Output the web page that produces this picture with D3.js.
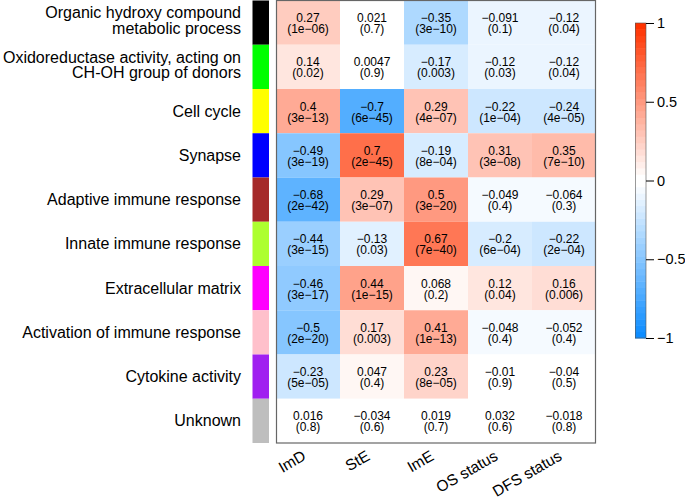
<!DOCTYPE html>
<html>
<head>
<meta charset="utf-8">
<script src="https://cdnjs.cloudflare.com/ajax/libs/d3/7.8.5/d3.min.js"></script>
<style>
body { margin:0; background:#fff; }
svg { display:block; font-family: "Liberation Sans", Arial, sans-serif; }
</style>
</head>
<body>
<svg id="chart" width="685" height="499"></svg>
<script>
const modules = ["Organic hydroxy compound\nmetabolic process",
  "Oxidoreductase activity, acting on\nCH-OH group of donors",
  "Cell cycle", "Synapse", "Adaptive immune response", "Innate immune response",
  "Extracellular matrix", "Activation of immune response", "Cytokine activity", "Unknown"];
const moduleColors = ["#000000","#00FF00","#FFFF00","#0000FF","#A52A2A","#ADFF2F","#FF00FF","#FFC0CB","#A020F0","#BEBEBE"];
const traits = ["ImD","StE","ImE","OS status","DFS status"];
const corr = [
  [0.27, 0.021, -0.35, -0.091, -0.12],
  [0.14, 0.0047, -0.17, -0.12, -0.12],
  [0.4, -0.7, 0.29, -0.22, -0.24],
  [-0.49, 0.7, -0.19, 0.31, 0.35],
  [-0.68, 0.29, 0.5, -0.049, -0.064],
  [-0.44, -0.13, 0.67, -0.2, -0.22],
  [-0.46, 0.44, 0.068, 0.12, 0.16],
  [-0.5, 0.17, 0.41, -0.048, -0.052],
  [-0.23, 0.047, 0.23, -0.01, -0.04],
  [0.016, -0.034, 0.019, 0.032, -0.018]
];
const pvals = [
  ["1e-06","0.7","3e-10","0.1","0.04"],
  ["0.02","0.9","0.003","0.03","0.04"],
  ["3e-13","6e-45","4e-07","1e-04","4e-05"],
  ["3e-19","2e-45","8e-04","3e-08","7e-10"],
  ["2e-42","3e-07","3e-20","0.4","0.3"],
  ["3e-15","0.03","7e-40","6e-04","2e-04"],
  ["3e-17","1e-15","0.2","0.04","0.006"],
  ["2e-20","0.003","1e-13","0.4","0.4"],
  ["5e-05","0.4","8e-05","0.9","0.5"],
  ["0.8","0.6","0.7","0.6","0.8"]
];
const legendTicks = [-1, -0.5, 0, 0.5, 1];

// blueWhiteRed(50) palette
const nCol = 50, half = 25;
const blueEnd = [0.05,0.55,1.0], redEnd = [1.0,0.2,0.0];
const palette = [];
for (let i = 0; i < half; i++) {
  const f = i/(half-1);
  palette.push(d3.rgb(...blueEnd.map(b => Math.round(255*(b + (1-b)*f)))).formatHex());
}
for (let i = 0; i < half; i++) {
  const f = 1 - i/(half-1);
  palette.push(d3.rgb(...redEnd.map(r => Math.round(255*(r + (1-r)*f)))).formatHex());
}
const colorScale = d3.scaleQuantize().domain([-1,1]).range(palette);

const svg = d3.select("#chart");
const fmt = s => String(s).replace(/-/g, "\u2212");

const x = d3.scaleBand().domain(traits).range([276, 596]);
const y = d3.scaleBand().domain(d3.range(modules.length)).range([0.5, 443]);

// module colour strip
svg.append("g").selectAll("rect").data(moduleColors).join("rect")
  .attr("x", 252.5).attr("width", 16.5)
  .attr("y", (d,i) => y(i)).attr("height", y.bandwidth())
  .attr("fill", d => d);

// cells
const cells = [];
corr.forEach((row, i) => row.forEach((v, j) => cells.push({i, j, v, p: pvals[i][j]})));
const g = svg.append("g");
g.selectAll("rect").data(cells).join("rect")
  .attr("x", d => x(traits[d.j])).attr("y", d => y(d.i))
  .attr("width", x.bandwidth()).attr("height", y.bandwidth())
  .attr("fill", d => colorScale(d.v));

const cx = d => x(traits[d.j]) + x.bandwidth()/2;
g.selectAll("text.v").data(cells).join("text").attr("class","v")
  .attr("text-anchor","middle").attr("font-size", 12).attr("fill","#000")
  .attr("x", cx).attr("y", d => y(d.i) + y.bandwidth()/2 - 0.5).text(d => fmt(d.v));
g.selectAll("text.p").data(cells).join("text").attr("class","p")
  .attr("text-anchor","middle").attr("font-size", 12).attr("fill","#000")
  .attr("x", cx).attr("y", d => y(d.i) + y.bandwidth()/2 + 10.5).text(d => "(" + fmt(d.p) + ")");

// frame
svg.append("rect").attr("x", 276.5).attr("y", 0.5).attr("width", 319).attr("height", 442.5)
  .attr("fill","none").attr("stroke","#666").attr("stroke-width",1.2);

// row labels
const rl = svg.append("g");
modules.forEach((d, i) => {
  const lines = d.split("\n");
  const cy = y(i) + y.bandwidth()/2;
  const lh = 15.5;
  const off = lines.length > 1 ? 3.5 : 5.5;
  lines.forEach((ln, k) => {
    rl.append("text").attr("text-anchor","end").attr("font-size",16).attr("fill","#000")
      .attr("x", 241)
      .attr("y", cy + off + (k - (lines.length-1)/2) * lh).text(ln);
  });
});

// column labels
svg.append("g").selectAll("text").data(traits).join("text")
  .attr("text-anchor","end").attr("font-size",15.5).attr("fill","#000")
  .attr("transform", d => `translate(${x(d) + x.bandwidth()/2 - 1},459) rotate(-30)`)
  .text(d => d);

// legend colour bar
const ly = d3.scaleLinear().domain([-1,1]).range([338, 23]);
const step = 2/nCol;
svg.append("g").selectAll("rect").data(palette).join("rect")
  .attr("x", 635).attr("width", 11)
  .attr("y", (d,i) => ly(-1 + (i+1)*step)).attr("height", (d,i) => ly(-1 + i*step) - ly(-1+(i+1)*step) + 0.5)
  .attr("fill", d => d);
svg.append("rect").attr("x",635.5).attr("y",23).attr("width",10.5).attr("height",315)
  .attr("fill","none").attr("stroke","#555").attr("stroke-width",0.6);
const ax = svg.append("g").attr("transform","translate(646,0)")
  .call(d3.axisRight(ly).tickValues(legendTicks).tickSize(8).tickPadding(3).tickFormat(d3.format("")));
ax.select(".domain").remove();
ax.selectAll("line").attr("stroke","#000");
ax.selectAll("text").attr("font-size",14.5).attr("font-family","Liberation Sans, Arial, sans-serif").attr("fill","#000");
</script>
</body>
</html>
